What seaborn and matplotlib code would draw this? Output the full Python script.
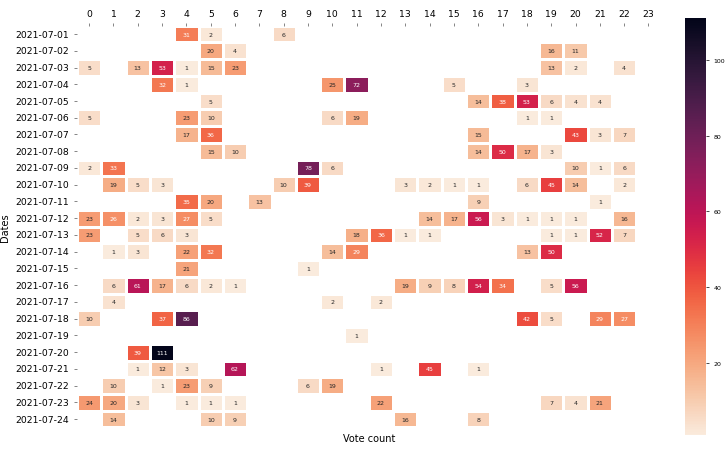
import numpy as np
import pandas as pd
import matplotlib
matplotlib.use('Agg')
import matplotlib.pyplot as plt
import seaborn as sns

# dates on the y axis, hour of day on the x axis
dates = ['2021-07-%02d' % d for d in range(1, 25)]
hours = list(range(24))

# vote counts per (date, hour); missing cells are left empty
votes = {
    '2021-07-01': {4: 31, 5: 2, 8: 6},
    '2021-07-02': {5: 20, 6: 4, 19: 16, 20: 11},
    '2021-07-03': {0: 5, 2: 13, 3: 53, 4: 1, 5: 15, 6: 23, 19: 13, 20: 2, 22: 4},
    '2021-07-04': {3: 32, 4: 1, 10: 25, 11: 72, 15: 5, 18: 3},
    '2021-07-05': {5: 5, 16: 14, 17: 38, 18: 53, 19: 6, 20: 4, 21: 4},
    '2021-07-06': {0: 5, 4: 23, 5: 10, 10: 6, 11: 19, 18: 1, 19: 1},
    '2021-07-07': {4: 17, 5: 36, 16: 15, 20: 43, 21: 3, 22: 7},
    '2021-07-08': {5: 15, 6: 10, 16: 14, 17: 50, 18: 17, 19: 3},
    '2021-07-09': {0: 2, 1: 33, 9: 78, 10: 6, 20: 10, 21: 1, 22: 6},
    '2021-07-10': {1: 19, 2: 5, 3: 3, 8: 10, 9: 39, 13: 3, 14: 2, 15: 1, 16: 1,
                   18: 6, 19: 45, 20: 14, 22: 2},
    '2021-07-11': {4: 35, 5: 20, 7: 13, 16: 9, 21: 1},
    '2021-07-12': {0: 23, 1: 26, 2: 2, 3: 3, 4: 27, 5: 5, 14: 14, 15: 17, 16: 56,
                   17: 3, 18: 1, 19: 1, 20: 1, 22: 16},
    '2021-07-13': {0: 23, 2: 5, 3: 6, 4: 3, 11: 18, 12: 36, 13: 1, 14: 1, 19: 1,
                   20: 1, 21: 52, 22: 7},
    '2021-07-14': {1: 1, 2: 3, 4: 22, 5: 32, 10: 14, 11: 29, 18: 13, 19: 50},
    '2021-07-15': {4: 21, 9: 1},
    '2021-07-16': {1: 6, 2: 61, 3: 17, 4: 6, 5: 2, 6: 1, 13: 19, 14: 9, 15: 8,
                   16: 54, 17: 34, 19: 5, 20: 56},
    '2021-07-17': {1: 4, 10: 2, 12: 2},
    '2021-07-18': {0: 10, 3: 37, 4: 86, 18: 42, 19: 5, 21: 29, 22: 27},
    '2021-07-19': {11: 1},
    '2021-07-20': {2: 39, 3: 111},
    '2021-07-21': {2: 1, 3: 12, 4: 3, 6: 62, 12: 1, 14: 45, 16: 1},
    '2021-07-22': {1: 10, 3: 1, 4: 23, 5: 9, 9: 6, 10: 19},
    '2021-07-23': {0: 24, 1: 20, 2: 3, 4: 1, 5: 1, 6: 1, 12: 22, 19: 7, 20: 4, 21: 21},
    '2021-07-24': {1: 14, 5: 10, 6: 9, 13: 16, 16: 8},
}

# build the date x hour table
df = pd.DataFrame(np.nan, index=dates, columns=hours)
for d, row in votes.items():
    for h, v in row.items():
        df.loc[d, h] = v

fig = plt.figure(figsize=(7.26, 4.52), dpi=100)
ax = fig.add_axes([0.106, 0.052, 0.804, 0.889])
cax = fig.add_axes([0.9435, 0.035, 0.029, 0.923])

sns.heatmap(df, ax=ax, cbar_ax=cax, cmap='rocket_r', annot=True, fmt='.0f',
            annot_kws={'size': 4.5}, linewidths=1, linecolor='white')

# hour labels on top, axis label stays at the bottom
ax.xaxis.tick_top()
ax.tick_params(axis='both', labelsize=6.7, length=2, width=0.5, color='#555555')
ax.set_yticklabels(dates, rotation=0)
ax.set_xticklabels(hours, rotation=0)
ax.set_xlabel('Vote count', fontsize=7)
ax.set_ylabel('Dates', fontsize=7)

cax.tick_params(labelsize=4.5, length=2, width=0.5)

fig.savefig('out.png', dpi=100)
